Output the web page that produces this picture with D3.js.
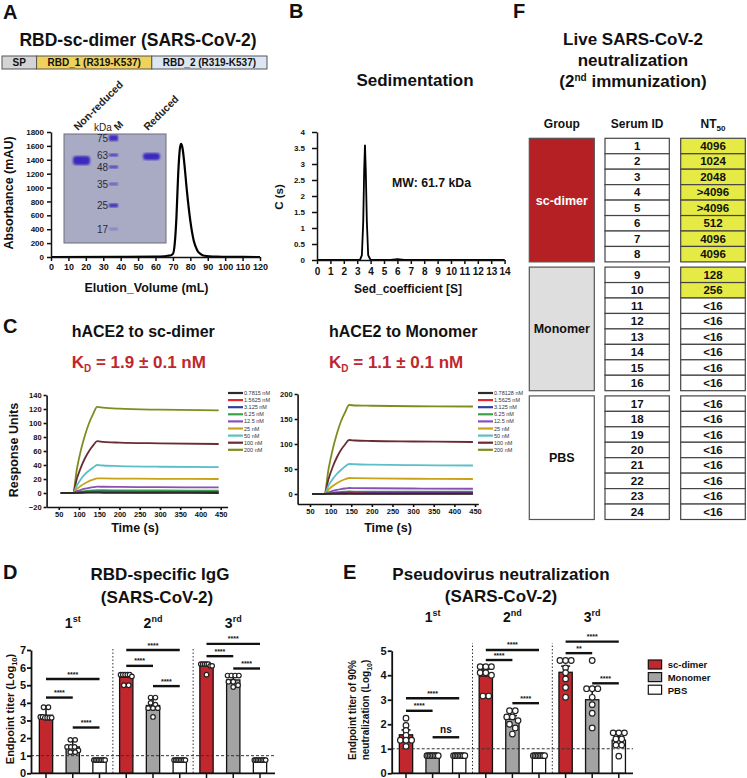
<!DOCTYPE html>
<html><head><meta charset="utf-8">
<script src="https://cdn.jsdelivr.net/npm/d3@7"></script>
<style>body{margin:0;background:#fff}svg{display:block}text{font-family:"Liberation Sans",Arial,Helvetica,sans-serif}</style>
</head><body><svg id="c" width="747" height="778"></svg>
<script>
// ================= DATA =================
// Panel A
const domainNames = ["SP", "RBD_1 (R319-K537)", "RBD_2 (R319-K537)"];
const domainRelWidth = [0.3, 1, 1];
const domainColors = ["#d4d4d4", "#efd15c", "#dde7f3"];
const elutionVolume = [0, 40, 60, 65, 67, 68.5, 70, 71, 72, 73, 74, 74.7, 75.5, 76.5, 78, 80, 82, 84, 86, 88, 95, 105, 120];
const absorbance    = [0, 2, 5, 10, 18, 22, 45, 180, 560, 1180, 1560, 1630, 1570, 1360, 960, 520, 230, 95, 40, 18, 6, 2, 0];
const elutionTicks = [0,10,20,30,40,50,60,70,80,90,100,110,120];
const absorbanceTicks = [0,200,400,600,800,1000,1200,1400,1600,1800];
const gelLanes = ["Non-reduced", "M", "Reduced"];
const gelMarkers = [75, 63, 48, 35, 25, 17];
const gelMarkerIntensity = [1, 0.85, 0.8, 0.6, 1, 0.3];
const gelSamples = [{lane: "Non-reduced", kDa: 55.6}, {lane: "Reduced", kDa: 61}];

// Panel B
const sedCoef = [0, 2, 3.2, 3.35, 3.45, 3.52, 3.58, 3.64, 3.72, 3.82, 4.0, 5.5, 6.0, 6.5, 14];
const sedC    = [0, 0, 0, 0.15, 1.2, 2.8, 3.6, 2.8, 1.2, 0.15, 0, 0, 0.03, 0, 0];
const sedXTicks = [0,1,2,3,4,5,6,7,8,9,10,11,12,13,14];
const sedYTicks = [0,0.5,1,1.5,2,2.5,3,3.5,4];

// Panel C
const sensorTimes = [55, 85, 95, 105, 115, 125, 135, 145, 160, 200, 300, 445];
const sensorColors = ["#2b2b2b", "#e0262e", "#2e3fa0", "#3aa04a", "#8b4fbb", "#c9a21a", "#5bbfc9", "#6a2c34", "#7f8c1e"];
const dimerLabels = ["0.7815 nM", "1.5625 nM", "3.125 nM", "6.25 nM", "12.5 nM", "25 nM", "50 nM", "100 nM", "200 nM"];
const dimerRU = [
  [0,0,0.2,0.3,0.4,0.5,0.5,0.5,0.3,0.2,0.1,0],
  [0,0,0.3,0.5,0.7,0.8,0.9,1.0,0.9,0.8,0.6,0.5],
  [0,0,0.6,1.1,1.4,1.7,1.9,2.0,1.9,1.8,1.6,1.5],
  [0,0,1.2,2.1,2.8,3.3,3.7,4.0,3.9,3.8,3.6,3.5],
  [0,0,2.6,4.6,6.1,7.3,8.3,9.0,8.9,8.7,8.3,8.0],
  [0,0,6,10.5,14,17,19.2,21,20.8,20.6,20.3,20],
  [0,0,11,20,27,32,36.5,40,39.3,38.5,37.5,37],
  [0,0,21,37,50,60,68,74,73,72,71,70],
  [0,0,35,62,83,100,113,123,122,120.5,119,118]
];
const monoLabels = ["0.78128 nM", "1.5625 nM", "3.125 nM", "6.25 nM", "12.5 nM", "25 nM", "50 nM", "100 nM", "200 nM"];
const monoRU = [
  [0,0,0.2,0.3,0.4,0.5,0.5,0.5,0.4,0.3,0.2,0.1],
  [0,0,0.3,0.6,0.8,0.9,1.0,1.1,1.0,0.9,0.8,0.7],
  [0,0,0.9,1.6,2.1,2.5,2.8,3.0,2.9,2.8,2.6,2.5],
  [0,0,1.5,2.7,3.6,4.3,4.7,5.0,4.9,4.8,4.6,4.5],
  [0,0,3.5,6.2,8.2,9.8,11,12,11.8,11.5,11,10.5],
  [0,0,9,16,21.5,26,29.5,32,31.7,31.3,30.5,30],
  [0,0,17,30,40,48,55,60,59.5,58.8,57.8,57],
  [0,0,30,54,73,88,99,108,107,106,105,104],
  [0,0,50,89,120,145,163,178,177,176.5,175.5,175]
];
const timeTicks = [50,100,150,200,250,300,350,400,450];
const dimerRUTicks = [-20,0,20,40,60,80,100,120,140];
const monoRUTicks = [0,50,100,150,200];

// Panels D & E
const groupNames = ["sc-dimer", "Monomer", "PBS"];
const groupFill = ["#c1272d", "#a3a3a3", "#ffffff"];
const roundLabels = [["1","st"], ["2","nd"], ["3","rd"]];
const iggTicks = [0,1,2,3,4,5,6,7];
const iggMean = [3.3, 1.5, 0.85, 5.45, 3.85, 0.85, 6.1, 5.3, 0.85];
const iggSD   = [0.45, 0.4, 0, 0.2, 0.45, 0, 0.1, 0.25, 0];
const iggPoints = [
  [3.75,3.75,3.2,3.15,3.15,3.15,3.15,3.2],
  [1.9,1.9,1.5,1.5,1.2,1.2,1.5,1.3],
  [0.75,0.75,0.75,0.75,0.75,0.75,0.75,0.75],
  [5.6,5.6,5.6,5.6,5.6,5.5,5.0,5.0],
  [4.3,4.3,4.0,3.7,3.7,3.7,3.2,3.9],
  [0.75,0.75,0.75,0.75,0.75,0.75,0.75,0.75],
  [6.2,6.2,6.2,6.2,6.1,6.1,5.6,6.2],
  [5.55,5.55,5.55,5.55,5.2,5.2,5.0,4.9],
  [0.75,0.75,0.75,0.75,0.75,0.75,0.75,0.75]
];
const iggSig = [[0,2,5.35,"****"],[0,1,4.3,"****"],[1,2,2.6,"****"],[3,5,7.0,"****"],[3,4,6.1,"****"],[4,5,4.95,"****"],[6,8,7.35,"****"],[6,7,6.65,"****"],[7,8,5.95,"****"]];

const pvTicks = [0,1,2,3,4,5];
const pvMean = [1.57, 0.8, 0.8, 3.97, 2.2, 0.8, 4.12, 3.0, 1.35];
const pvSD   = [0.2, 0, 0, 0.28, 0.15, 0, 0.25, 0.5, 0.3];
const pvPoints = [
  [2.25,1.95,1.75,1.55,1.35,1.35,1.35,1.1],
  [0.72,0.72,0.72,0.72,0.72,0.72,0.72,0.72],
  [0.72,0.72,0.72,0.72,0.72,0.72,0.72,0.72],
  [4.35,4.35,4.35,4.1,4.1,4.0,3.15,3.15],
  [2.55,2.55,2.3,2.3,2.15,2.0,1.85,1.6],
  [0.72,0.72,0.72,0.72,0.72,0.72,0.72,0.72],
  [4.6,4.6,4.6,4.3,4.1,3.85,3.5,3.1],
  [4.6,3.45,3.45,3.45,3.1,2.8,2.45,1.85],
  [1.65,1.65,1.65,1.4,1.4,1.15,1.15,0.7]
];
const pvSig = [[0,2,3.06,"****"],[0,1,2.55,"****"],[1,2,1.47,"ns"],[3,5,5.03,"****"],[3,4,4.62,"****"],[4,5,2.86,"****"],[6,8,5.37,"****"],[6,7,4.9,"**"],[7,8,3.67,"****"]];

// Panel F
const tableGroups = ["sc-dimer", "Monomer", "PBS"];
const tableGroupFill = ["#b52025", "#dedede", "#ffffff"];
const tableGroupText = ["#ffffff", "#111111", "#111111"];
const serumIds = ["1","2","3","4","5","6","7","8","9","10","11","12","13","14","15","16","17","18","19","20","21","22","23","24"];
const nt50 = ["4096","1024","2048",">4096",">4096","512","4096","4096","128","256","<16","<16","<16","<16","<16","<16","<16","<16","<16","<16","<16","<16","<16","<16"];

// ================= DRAWING =================
const svg = d3.select("#c");
const FONT = '"Liberation Sans", Arial, Helvetica, sans-serif';
function txt(g, x, y, s, o = {}) {
  const t = g.append("text").attr("x", x).attr("y", y).text(s)
    .attr("font-size", o.size || 12).attr("font-weight", o.weight || "bold")
    .attr("text-anchor", o.anchor || "start").attr("fill", o.fill || "#111");
  if (o.rotate !== undefined) t.attr("transform", `rotate(${o.rotate},${x},${y})`);
  return t;
}
function styleAxis(g, fs, sw) {
  g.attr("font-family", FONT);
  g.selectAll("path,line").attr("stroke", "#111").attr("stroke-width", sw || 1.5);
  g.selectAll("text").attr("font-size", fs).attr("font-weight", "bold").attr("fill", "#111").attr("font-family", FONT);
}
const fmt = d3.format("");

// ---------- Panel A ----------
const gA = svg.append("g");
txt(gA, 3, 19, "A", {size: 20});
txt(gA, 138, 46, "RBD-sc-dimer (SARS-CoV-2)", {size: 17.5, anchor: "middle"});
const domX = d3.scaleLinear().domain([0, d3.sum(domainRelWidth)]).range([2, 267]);
let acc = 0;
domainNames.forEach((n, i) => {
  const x0 = domX(acc), x1 = domX(acc + domainRelWidth[i]); acc += domainRelWidth[i];
  gA.append("rect").attr("x", x0).attr("y", 56).attr("width", x1 - x0).attr("height", 13)
    .attr("fill", domainColors[i]).attr("stroke", "#555").attr("stroke-width", 1);
  txt(gA, (x0 + x1) / 2, 66.3, n, {size: 10, anchor: "middle"});
});
const xA = d3.scaleLinear([0, 120], [51, 260]);
const yA = d3.scaleLinear([0, 1800], [257, 132]);

// gel inset
const defs = svg.append("defs");
defs.append("filter").attr("id", "blur").append("feGaussianBlur").attr("stdDeviation", 0.9);
const laneX = d3.scaleOrdinal().domain(gelLanes).range([81.5, 113.5, 151.5]);
const kDaY = d3.scaleLog().domain([17, 25, 35, 48, 63, 75]).range([229, 205, 184, 167, 155, 138]);
gA.append("rect").attr("x", 64).attr("y", 134).attr("width", 102).attr("height", 109)
  .attr("fill", "#a9abc5").attr("stroke", "#6d6d7a").attr("stroke-width", 1);
gelMarkers.forEach((k, i) => {
  gA.append("rect").attr("x", laneX("M") - 4.5).attr("y", kDaY(k) - (i === 0 ? 3 : 1.6))
    .attr("width", 9).attr("height", i === 0 ? 6 : (i === 4 ? 4 : 3.2)).attr("fill", "#3f2fbf")
    .attr("opacity", gelMarkerIntensity[i]).attr("filter", "url(#blur)");
  txt(gA, laneX("M") - 5.5, kDaY(k) + 3.5, String(k), {size: 10, weight: "normal", anchor: "end", fill: "#2a2a35"});
});
gelSamples.forEach((s, i) => {
  gA.append("rect").attr("x", laneX(s.lane) - 8.5).attr("y", kDaY(s.kDa) - (i === 0 ? 4.5 : 3.5))
    .attr("width", 17).attr("height", i === 0 ? 9 : 7).attr("rx", 3).attr("fill", "#3a2bc0")
    .attr("filter", "url(#blur)");
});
txt(gA, 103, 131, "kDa", {size: 10, weight: "normal", anchor: "middle", fill: "#222"});
txt(gA, 118, 131, "M", {size: 10, anchor: "start", fill: "#222", rotate: -45});
txt(gA, 78, 131, "Non-reduced", {size: 10.5, anchor: "start", fill: "#222", rotate: -45});
txt(gA, 148, 131, "Reduced", {size: 10.5, anchor: "start", fill: "#222", rotate: -45});

gA.append("path").datum(elutionVolume.map((v, i) => [v, absorbance[i]]))
  .attr("d", d3.line().x(d => xA(d[0])).y(d => yA(d[1])).curve(d3.curveMonotoneX))
  .attr("fill", "none").attr("stroke", "#000").attr("stroke-width", 2.2);
const axAy = gA.append("g").attr("transform", "translate(51,0)")
  .call(d3.axisLeft(yA).tickValues(absorbanceTicks).tickFormat(fmt).tickSize(4).tickPadding(3).tickSizeOuter(0));
styleAxis(axAy, 8);
const axAx = gA.append("g").attr("transform", "translate(0,257)")
  .call(d3.axisBottom(xA).tickValues(elutionTicks).tickFormat(fmt).tickSize(4).tickPadding(3).tickSizeOuter(0));
styleAxis(axAx, 9);
txt(gA, 146.5, 292, "Elution_Volume (mL)", {size: 12.5, anchor: "middle"});
txt(gA, 13, 193, "Absorbance (mAU)", {size: 12.5, anchor: "middle", rotate: -90});

// ---------- Panel B ----------
const gB = svg.append("g");
txt(gB, 289, 18, "B", {size: 20});
txt(gB, 415, 86, "Sedimentation", {size: 17, anchor: "middle"});
const xB = d3.scaleLinear([0, 14], [317, 504.6]);
const yB = d3.scaleLinear([0, 4], [260, 132]);
gB.append("path").datum(sedCoef.map((v, i) => [v, sedC[i]]))
  .attr("d", d3.line().x(d => xB(d[0])).y(d => yB(d[1])))
  .attr("fill", "none").attr("stroke", "#000").attr("stroke-width", 1.8);
const axBy = gB.append("g").attr("transform", "translate(317,0)")
  .call(d3.axisLeft(yB).tickValues(sedYTicks).tickFormat(fmt).tickSize(5).tickPadding(7).tickSizeOuter(0));
styleAxis(axBy, 8);
const axBx = gB.append("g").attr("transform", "translate(0,260)")
  .call(d3.axisBottom(xB).tickValues(sedXTicks).tickFormat(fmt).tickSize(4).tickPadding(4).tickSizeOuter(0));
styleAxis(axBx, 10);
txt(gB, 392, 187, "MW: 61.7 kDa", {size: 12.3});
txt(gB, 283, 197, "C (s)", {size: 11.5, anchor: "middle", rotate: -90});
txt(gB, 408, 293, "Sed_coefficient [S]", {size: 12, anchor: "middle"});

// ---------- Panel C ----------
const gC = svg.append("g");
txt(gC, 3, 333, "C", {size: 20});
function kdText(x, val) {
  const t = gC.append("text").attr("x", x).attr("y", 368).attr("font-size", 17).attr("font-weight", "bold").attr("fill", "#c0272d");
  t.append("tspan").text("K");
  t.append("tspan").attr("dy", 4).attr("font-size", 10).text("D");
  t.append("tspan").attr("dy", -4).text(" = " + val + " nM");
}
txt(gC, 71.7, 337, "hACE2 to sc-dimer", {size: 16});
kdText(71.7, "1.9 ± 0.1");
txt(gC, 329, 337, "hACE2 to Monomer", {size: 16});
kdText(329, "1.1 ± 0.1");

function sensorChart(x, y, series, labels, legendX, yTicks, ax0, ay0) {
  const g = gC.append("g");
  for (let i = series.length - 1; i >= 0; i--) {
    g.append("path").datum(sensorTimes.map((t, j) => [t, series[i][j]]))
      .attr("d", d3.line().x(d => x(d[0])).y(d => y(d[1])).curve(d3.curveMonotoneX))
      .attr("fill", "none").attr("stroke", sensorColors[i]).attr("stroke-width", 1.8);
  }
  const ay = g.append("g").attr("transform", `translate(${ax0},0)`)
    .call(d3.axisLeft(y).tickValues(yTicks).tickFormat(fmt).tickSize(3).tickPadding(2).tickSizeOuter(0));
  styleAxis(ay, 7.5, 1.6);
  const axb = g.append("g").attr("transform", `translate(0,${ay0})`)
    .call(d3.axisBottom(x).tickValues(timeTicks).tickFormat(fmt).tickSize(3).tickPadding(2).tickSizeOuter(0));
  styleAxis(axb, 7.5, 1.6);
  labels.forEach((l, i) => {
    const yy = 393 + i * 7.1;
    g.append("line").attr("x1", legendX).attr("x2", legendX + 15).attr("y1", yy).attr("y2", yy)
      .attr("stroke", sensorColors[i]).attr("stroke-width", 2.2);
    txt(g, legendX + 16, yy + 2, l, {size: 5.5, weight: "normal", fill: "#333"});
  });
}
const xCl = d3.scaleLinear([20, 467], [46.6, 227.6]);
const yCl = d3.scaleLinear([-20, 140], [507, 395]);
sensorChart(xCl, yCl, dimerRU, dimerLabels, 228, dimerRUTicks, 46.6, 507);
const xCr = d3.scaleLinear([20, 458], [297.6, 478.3]);
const yCr = d3.scaleLinear([-20, 200], [504, 394]);
sensorChart(xCr, yCr, monoRU, monoLabels, 478, monoRUTicks, 297.6, 504);
txt(gC, 18, 450, "Response Units", {size: 12.5, anchor: "middle", rotate: -90});
txt(gC, 135, 532, "Time (s)", {size: 12.5, anchor: "middle"});
txt(gC, 388, 532, "Time (s)", {size: 12.5, anchor: "middle"});

// ---------- Panels D & E ----------
function barPanel(o) {
  const g = svg.append("g");
  const x = d3.scalePoint().domain(d3.range(9)).range(o.xr);
  const y = d3.scaleLinear([0, o.ymax], [773.3, o.ytop]);
  const bw = 13.3;
  [2, 5].forEach(i => {
    const sx = (x(i) + x(i + 1)) / 2;
    g.append("line").attr("x1", sx).attr("x2", sx).attr("y1", 773).attr("y2", o.sepTop)
      .attr("stroke", "#333").attr("stroke-width", 1).attr("stroke-dasharray", "1.5,2");
  });
  o.means.forEach((m, i) => {
    g.append("rect").attr("x", x(i) - bw / 2).attr("y", y(m)).attr("width", bw).attr("height", y(0) - y(m))
      .attr("fill", groupFill[i % 3]).attr("stroke", "#111").attr("stroke-width", 1.3);
  });
  g.append("line").attr("x1", o.ax).attr("x2", o.axEnd).attr("y1", y(1)).attr("y2", y(1))
    .attr("stroke", "#333").attr("stroke-width", 1).attr("stroke-dasharray", "3,2");
  o.means.forEach((m, i) => {
    if (!o.sd[i]) return;
    g.append("line").attr("x1", x(i)).attr("x2", x(i)).attr("y1", y(m)).attr("y2", y(m + o.sd[i])).attr("stroke", "#111").attr("stroke-width", 1.5);
    g.append("line").attr("x1", x(i) - 4.5).attr("x2", x(i) + 4.5).attr("y1", y(m + o.sd[i])).attr("y2", y(m + o.sd[i])).attr("stroke", "#111").attr("stroke-width", 1.5);
  });
  o.points.forEach((pts, i) => {
    const sorted = pts.slice().sort((a, b) => b - a);
    const rows = [];
    sorted.forEach(v => {
      const last = rows[rows.length - 1];
      if (last && Math.abs(y(last[0]) - y(v)) < o.r * 1.6) last.push(v); else rows.push([v]);
    });
    rows.forEach(row => {
      const n = row.length;
      const sp = n > 1 ? Math.min(2 * o.r + 0.2, (bw - 2) / (n - 1)) : 0;
      row.forEach((v, k) => {
        g.append("circle").attr("cx", x(i) + (k - (n - 1) / 2) * sp).attr("cy", y(v)).attr("r", o.r)
          .attr("fill", "#fff").attr("stroke", "#222").attr("stroke-width", 1.2);
      });
    });
  });
  o.sig.forEach(([a, b, v, lab]) => {
    g.append("line").attr("x1", x(a)).attr("x2", x(b)).attr("y1", y(v)).attr("y2", y(v))
      .attr("stroke", "#111").attr("stroke-width", 2.4);
    txt(g, (x(a) + x(b)) / 2, y(v) - (lab === "ns" ? 4 : 2.5), lab, {size: lab === "ns" ? 10 : 7, anchor: "middle"});
  });
  const ay = g.append("g").attr("transform", `translate(${o.ax},0)`)
    .call(d3.axisLeft(y).tickValues(o.ticks).tickFormat(fmt).tickSize(4).tickPadding(1).tickSizeOuter(0));
  styleAxis(ay, 11, 1.8);
  g.append("line").attr("x1", o.ax).attr("x2", o.axEnd).attr("y1", 773.3).attr("y2", 773.3).attr("stroke", "#111").attr("stroke-width", 1.8);
  d3.range(9).forEach(i => g.append("line").attr("x1", x(i)).attr("x2", x(i)).attr("y1", 773.3).attr("y2", 778).attr("stroke", "#111").attr("stroke-width", 1.5));
  roundLabels.forEach((r, k) => {
    const t = g.append("text").attr("x", x(k * 3 + 1)).attr("y", o.roundY).attr("text-anchor", "middle")
      .attr("font-size", 14).attr("font-weight", "bold").attr("fill", "#111");
    t.append("tspan").text(r[0]);
    t.append("tspan").attr("dy", -6).attr("font-size", 9).text(r[1]);
  });
  return g;
}
const gD = barPanel({xr: [46, 260], ymax: 7, ytop: 650, ax: 31, axEnd: 275, sepTop: 647, means: iggMean, sd: iggSD,
  points: iggPoints, sig: iggSig, r: 2.3, ticks: iggTicks, roundY: 628});
txt(gD, 3, 579, "D", {size: 20});
txt(gD, 160, 580, "RBD-specific IgG", {size: 17, anchor: "middle"});
txt(gD, 157, 603, "(SARS-CoV-2)", {size: 17, anchor: "middle"});
{
  const t = gD.append("text").attr("transform", "translate(14,709) rotate(-90)").attr("text-anchor", "middle")
    .attr("font-size", 11).attr("font-weight", "bold").attr("fill", "#111");
  t.append("tspan").text("Endpoint titer (Log");
  t.append("tspan").attr("dy", 3).attr("font-size", 7.5).text("10");
  t.append("tspan").attr("dy", -3).text(")");
}
const gE = barPanel({xr: [406, 618.8], ymax: 5, ytop: 650.7, ax: 391.7, axEnd: 633, sepTop: 643, means: pvMean, sd: pvSD,
  points: pvPoints, sig: pvSig, r: 2.8, ticks: pvTicks, roundY: 622});
txt(gE, 343, 579, "E", {size: 20});
txt(gE, 501, 580, "Pseudovirus neutralization", {size: 17, anchor: "middle"});
txt(gE, 501, 602, "(SARS-CoV-2)", {size: 17, anchor: "middle"});
txt(gE, 356, 710, "Endpoint titer of 90%", {size: 10, anchor: "middle", rotate: -90});
{
  const t = gE.append("text").attr("transform", "translate(369,710) rotate(-90)").attr("text-anchor", "middle")
    .attr("font-size", 10).attr("font-weight", "bold").attr("fill", "#111");
  t.append("tspan").text("neutralization (Log");
  t.append("tspan").attr("dy", 3).attr("font-size", 7).text("10");
  t.append("tspan").attr("dy", -3).text(")");
}
groupNames.forEach((n, i) => {
  const yy = 660 + i * 12.6;
  gE.append("rect").attr("x", 648.3).attr("y", yy).attr("width", 13.3).attr("height", 9)
    .attr("fill", groupFill[i]).attr("stroke", "#111").attr("stroke-width", 1.2);
  txt(gE, 667.7, yy + 8.3, n, {size: 9.5});
});

// ---------- Panel F ----------
const gF = svg.append("g");
txt(gF, 513, 18, "F", {size: 20});
txt(gF, 633, 45, "Live SARS-CoV-2", {size: 17, anchor: "middle"});
txt(gF, 633, 66, "neutralization", {size: 17, anchor: "middle"});
{
  const t = gF.append("text").attr("x", 633).attr("y", 87).attr("text-anchor", "middle").attr("font-size", 17).attr("font-weight", "bold").attr("fill", "#111");
  t.append("tspan").text("(2");
  t.append("tspan").attr("dy", -6).attr("font-size", 10).text("nd");
  t.append("tspan").attr("dy", 6).text(" immunization)");
}
const colGroup = [529.3, 594.3], colId = [605, 669.3], colNT = [680.7, 745.3];
txt(gF, (colGroup[0] + colGroup[1]) / 2, 128, "Group", {size: 12, anchor: "middle"});
txt(gF, (colId[0] + colId[1]) / 2, 128, "Serum ID", {size: 12, anchor: "middle"});
{
  const t = gF.append("text").attr("x", (colNT[0] + colNT[1]) / 2).attr("y", 128).attr("text-anchor", "middle").attr("font-size", 12).attr("font-weight", "bold").attr("fill", "#111");
  t.append("tspan").text("NT");
  t.append("tspan").attr("dy", 3).attr("font-size", 8).text("50");
}
const rowH = 15.45, groupGap = 5.2, tableTop = 138.3;
tableGroups.forEach((gname, gi) => {
  const gy = tableTop + gi * (8 * rowH + groupGap);
  gF.append("rect").attr("x", colGroup[0]).attr("y", gy).attr("width", colGroup[1] - colGroup[0]).attr("height", 8 * rowH)
    .attr("fill", tableGroupFill[gi]).attr("stroke", "#555").attr("stroke-width", 1.2);
  txt(gF, (colGroup[0] + colGroup[1]) / 2, gy + 4 * rowH + 4.5, gname, {size: 12.5, anchor: "middle", fill: tableGroupText[gi]});
  for (let r = 0; r < 8; r++) {
    const idx = gi * 8 + r, ry = gy + r * rowH;
    gF.append("rect").attr("x", colId[0]).attr("y", ry).attr("width", colId[1] - colId[0]).attr("height", rowH)
      .attr("fill", "#fff").attr("stroke", "#444").attr("stroke-width", 1.2);
    txt(gF, (colId[0] + colId[1]) / 2, ry + rowH / 2 + 4, serumIds[idx], {size: 11.5, anchor: "middle"});
    const pos = nt50[idx][0] !== "<";
    gF.append("rect").attr("x", colNT[0]).attr("y", ry).attr("width", colNT[1] - colNT[0]).attr("height", rowH)
      .attr("fill", pos ? "#e6ea44" : "#fff").attr("stroke", "#444").attr("stroke-width", 1.2);
    txt(gF, (colNT[0] + colNT[1]) / 2, ry + rowH / 2 + 4, nt50[idx], {size: 11.5, anchor: "middle"});
  }
});
</script></body></html>
